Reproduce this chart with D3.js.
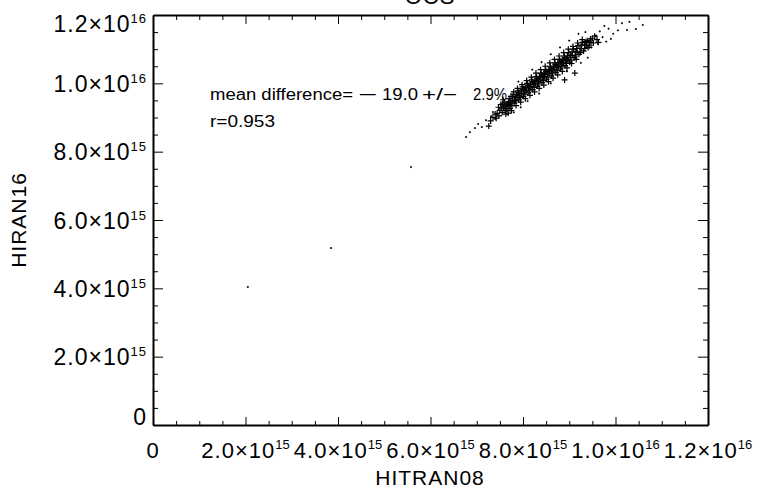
<!DOCTYPE html>
<html>
<head>
<meta charset="utf-8">
<script src="https://cdn.jsdelivr.net/npm/d3@7"></script>
<style>
body { margin: 0; background: #fff; }
text { font-family: "Liberation Sans", Arial, sans-serif; fill: #000; }
</style>
</head>
<body>
<script>
// values in units of 1e15 molecules (HITRAN08, HIRAN16)
const title = "OCS";
const xTitle = "HITRAN08";
const yTitle = "HIRAN16";
const statLines = ["mean difference=", "\u2212", "19.0", "+/\u2212", "2.9%", "r=0.953"];

const xMajor = [0, 2, 4, 6, 8, 10, 12];
const yMajor = [0, 2, 4, 6, 8, 10, 12];
const tickMant = ["0", "2.0\u00d710", "4.0\u00d710", "6.0\u00d710", "8.0\u00d710", "1.0\u00d710", "1.2\u00d710"];
const tickExp = ["", "15", "15", "15", "15", "16", "16"];

// dense band, drawn as plus signs
const crossPoints = [
  [7.44,9.12],[7.47,9.30],[7.50,9.21],[7.52,9.38],[7.55,9.15],[7.48,9.05],
  [7.58,9.28],[7.60,9.45],[7.62,9.20],[7.64,9.36],[7.57,9.52],[7.63,9.10],[7.66,9.40],
  [7.68,9.33],[7.70,9.55],[7.72,9.27],[7.69,9.46],[7.74,9.62],[7.71,9.38],[7.75,9.20],
  [7.77,9.50],[7.79,9.68],[7.81,9.42],[7.83,9.58],[7.80,9.75],[7.85,9.35],[7.78,9.61],[7.82,9.48],
  [7.87,9.60],[7.89,9.78],[7.91,9.52],[7.93,9.70],[7.88,9.85],[7.95,9.45],[7.92,9.64],[7.90,9.72],
  [7.97,9.70],[7.99,9.90],[8.01,9.62],[8.03,9.80],[7.98,9.96],[8.05,9.55],[8.02,9.75],[8.00,9.84],
  [8.07,9.80],[8.09,10.00],[8.11,9.72],[8.13,9.92],[8.08,10.08],[8.15,9.65],[8.12,9.86],[8.10,9.95],
  [8.17,9.90],[8.19,10.10],[8.21,9.82],[8.23,10.02],[8.18,10.18],[8.25,9.75],[8.22,9.96],[8.20,10.05],
  [8.27,10.00],[8.29,10.20],[8.31,9.92],[8.33,10.12],[8.28,10.30],[8.35,9.85],[8.32,10.06],[8.30,10.15],
  [8.37,10.10],[8.39,10.30],[8.41,10.02],[8.43,10.22],[8.38,10.40],[8.45,9.95],[8.42,10.16],[8.40,10.25],
  [8.47,10.20],[8.49,10.40],[8.51,10.12],[8.53,10.32],[8.48,10.50],[8.55,10.05],[8.52,10.26],[8.50,10.35],
  [8.57,10.30],[8.59,10.50],[8.61,10.22],[8.63,10.42],[8.58,10.60],[8.65,10.15],[8.62,10.36],[8.60,10.45],
  [8.67,10.40],[8.69,10.60],[8.71,10.32],[8.73,10.52],[8.68,10.70],[8.75,10.25],[8.72,10.46],[8.70,10.55],
  [8.77,10.50],[8.79,10.70],[8.81,10.42],[8.83,10.62],[8.78,10.80],[8.85,10.35],[8.82,10.56],[8.80,10.65],
  [8.87,10.60],[8.89,10.80],[8.91,10.52],[8.93,10.72],[8.88,10.90],[8.95,10.45],[8.92,10.66],[8.90,10.75],
  [8.97,10.70],[8.99,10.90],[9.01,10.62],[9.03,10.82],[8.98,11.00],[9.05,10.58],[9.02,10.76],
  [9.07,10.82],[9.09,11.00],[9.11,10.75],[9.13,10.92],[9.08,11.08],[9.15,10.70],
  [9.17,10.92],[9.19,11.10],[9.21,10.85],[9.23,11.02],[9.18,11.18],
  [9.27,11.02],[9.29,11.20],[9.31,10.95],[9.33,11.12],[9.28,11.28],
  [9.37,11.12],[9.39,11.25],[9.41,11.05],[9.43,11.20],
  [9.47,11.20],[9.50,11.32],
  [7.35,9.00],[7.40,9.10],[7.42,8.98],[7.53,9.28],[7.56,9.40],[7.61,9.33],[7.65,9.25],[7.73,9.45],
  [7.76,9.35],[7.84,9.50],[7.86,9.66],[7.94,9.58],[7.96,9.80],[8.04,9.68],[8.06,9.88],[8.14,9.78],
  [8.16,9.98],[8.24,9.88],[8.26,10.08],[8.34,9.98],[8.36,10.20],[8.44,10.08],[8.46,10.30],[8.54,10.18],
  [8.56,10.40],[8.64,10.28],[8.66,10.50],[8.74,10.38],[8.76,10.60],[8.84,10.48],[8.86,10.70],[8.94,10.58],
  [8.96,10.80],[9.04,10.68],[9.06,10.92],[9.14,10.80],[9.16,11.02],[9.24,10.90],[9.26,11.12],[9.34,11.02],
  [9.36,11.22],[9.44,11.10],[9.46,11.30],[9.52,11.18],[9.55,11.38],[9.60,11.28],[9.63,11.20],
  [9.12,10.30],[8.90,10.10],[7.68,9.13],[7.26,8.75],[7.30,8.90]
];

// sparse points, drawn as dots
const dotPoints = [
  [9.48,11.05],[9.62,11.15],[9.80,11.22],[9.90,11.30],
  [9.58,11.40],[9.66,11.52],[9.72,11.35],[9.85,11.60],[9.95,11.45],[9.76,11.68],[10.05,11.55],
  [10.14,11.76],[10.25,11.56],[10.44,11.59],[10.59,11.71],[10.30,11.80],
  [8.60,10.00],[8.35,9.70],[8.95,10.35],[9.25,10.60],[9.40,10.75],[8.10,9.48],
  [7.80,9.15],[7.95,9.30],
  [7.90,10.05],[8.20,10.40],[8.60,10.85],[8.40,10.62],[9.00,11.25],[9.20,11.45],[9.35,11.50],[8.80,11.05],
  [6.77,8.43],[6.85,8.57],[6.96,8.69],[7.03,8.81],[7.11,8.72],[7.31,9.04],[7.35,9.16],[7.20,8.92],[7.40,8.95],
  [2.05,4.04],[3.85,5.18],[5.58,7.55]
];

const W = 761, H = 491;
const svg = d3.select("body").append("svg")
  .attr("width", W)
  .attr("height", H);

const x = d3.scaleLinear().domain([0, 12]).range([153, 708]);
const y = d3.scaleLinear().domain([0, 12]).range([425, 15]);

const minor = d3.range(0, 12.01, 0.5).filter(v => v % 2 != 0);

// axes, ticks pointing inward, box from the domain lines
function drawAxis(axisFn, scale, pos, major, majLen, minLen) {
  const g = svg.append("g").attr("transform", pos);
  g.call(axisFn(scale).tickValues(major).tickSize(-majLen).tickSizeOuter(0).tickFormat(""));
  g.select(".domain").attr("stroke-width", 2);
  const gm = svg.append("g").attr("transform", pos);
  gm.call(axisFn(scale).tickValues(minor).tickSize(-minLen).tickSizeOuter(0).tickFormat(""));
  gm.select(".domain").remove();
}
drawAxis(d3.axisBottom, x, `translate(0,${y(0)})`, xMajor, 8, 4);
drawAxis(d3.axisTop, x, `translate(0,${y(12)})`, xMajor, 9, 5);
drawAxis(d3.axisLeft, y, `translate(${x(0)},0)`, yMajor, 10, 5);
drawAxis(d3.axisRight, y, `translate(${x(12)},0)`, yMajor, 10, 5);

// tick labels with superscript exponent
function addLabel(sel, supSpacing) {
  sel.append("tspan").text((d, i) => tickMant[i]);
  sel.append("tspan")
    .attr("dy", -9)
    .attr("font-size", 13)
    .attr("letter-spacing", supSpacing)
    .text((d, i) => tickExp[i]);
}

svg.append("g").selectAll("text")
  .data(xMajor)
  .join("text")
  .attr("x", d => x(d))
  .attr("y", 458)
  .attr("text-anchor", "middle")
  .attr("font-size", 22)
  .attr("letter-spacing", 1)
  .call(addLabel, 0);

svg.append("g").selectAll("text")
  .data(yMajor)
  .join("text")
  .attr("x", 147)
  .attr("y", d => d == 12 ? y(d) + 17 : (d == 0 ? y(d) : y(d) + 8.5))
  .attr("text-anchor", "end")
  .attr("font-size", 23)
  .attr("letter-spacing", 1)
  .call(addLabel, 1);

// titles
svg.append("text")
  .attr("x", 430).attr("y", 4)
  .attr("text-anchor", "middle")
  .attr("font-size", 22)
  .attr("letter-spacing", 1)
  .text(title);

svg.append("text")
  .attr("x", 430).attr("y", 485)
  .attr("text-anchor", "middle")
  .attr("font-size", 21)
  .attr("letter-spacing", 1)
  .text(xTitle);

svg.append("text")
  .attr("transform", "translate(26,220) rotate(-90)")
  .attr("text-anchor", "middle")
  .attr("font-size", 21)
  .attr("letter-spacing", 1)
  .text(yTitle);

// statistics text, pieces stretched to the wide IDL glyphs
const statPos = [[210, 100, 143], [358, 100, 19], [382, 100, 36], [422, 100, 35], [473, 100, 34], [210, 127, 65]];
svg.append("g").selectAll("text")
  .data(statLines)
  .join("text")
  .attr("x", (d, i) => statPos[i][0])
  .attr("y", (d, i) => statPos[i][1])
  .attr("textLength", (d, i) => statPos[i][2])
  .attr("lengthAdjust", "spacingAndGlyphs")
  .attr("font-size", 16)
  .text(d => d);

// points
function plus(d, a) {
  const px = x(d[0]), py = y(d[1]);
  return `M${px - a},${py}H${px + a}M${px},${py - a}V${py + a}`;
}

svg.append("g")
  .selectAll("path")
  .data(crossPoints)
  .join("path")
  .attr("d", d => plus(d, 3))
  .attr("stroke", "#000")
  .attr("stroke-width", 1.2);

svg.append("g")
  .selectAll("path")
  .data(dotPoints)
  .join("path")
  .attr("d", d => plus(d, 1))
  .attr("stroke", "#000")
  .attr("stroke-width", 1);
</script>
</body>
</html>
